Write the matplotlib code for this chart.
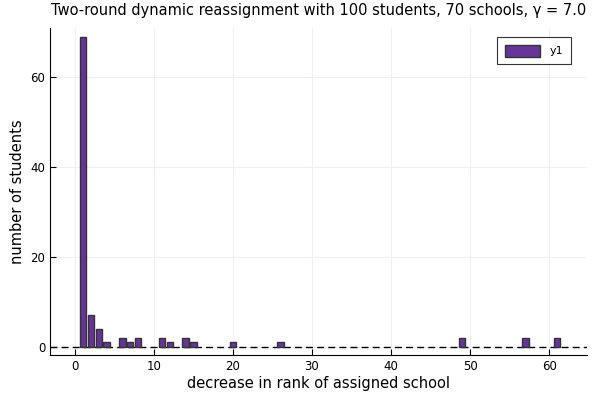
import matplotlib
matplotlib.use("Agg")
import matplotlib.pyplot as plt
import numpy as np

# decrease in rank -> number of students
decrease = [1, 2, 3, 4, 6, 7, 8, 11, 12, 14, 15, 20, 26, 49, 57, 61]
count = [69, 7, 4, 1, 2, 1, 2, 2, 1, 2, 1, 1, 1, 2, 2, 2]

plt.rcParams['font.family'] = ['DejaVu Sans']

fig = plt.figure(figsize=(6, 4), dpi=100)
ax = fig.add_axes([50/600, 1 - 355/400, 537/600, 327/400])

ax.axhline(0, color='k', lw=1, ls=(0, (5, 3)), zorder=1)
ax.bar(decrease, count, width=0.8, color='#663399', edgecolor='#333333',
       linewidth=1, label='y1', zorder=2)

ax.set_xlim(-3.16, 64.8)
ax.set_ylim(-1.78, 70.9)
ax.set_xticks(np.arange(0, 61, 10))
ax.set_yticks(np.arange(0, 61, 20))
ax.tick_params(labelsize=8.5, direction='in', length=4)
ax.grid(color='#efefef', linewidth=0.8)
ax.set_axisbelow(True)
for s in ['top', 'right']:
    ax.spines[s].set_visible(False)

ax.set_xlabel('decrease in rank of assigned school', fontsize=10.5, labelpad=2)
ax.set_ylabel('number of students', fontsize=10.5, labelpad=4)
ax.set_title('Two-round dynamic reassignment with 100 students, 70 schools, γ = 7.0',
             fontsize=10.5, pad=9)

leg = ax.legend(loc='upper right', fontsize=8, fancybox=False, edgecolor='k',
                borderpad=0.7, handlelength=3.2, handleheight=1.3,
                bbox_to_anchor=(0.98, 0.99))
leg.get_frame().set_linewidth(0.8)

plt.savefig('out.png', dpi=100)
